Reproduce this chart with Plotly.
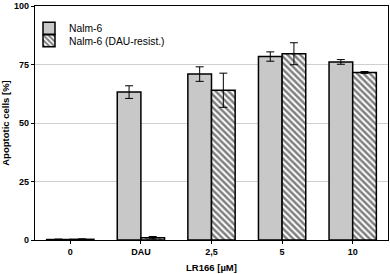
import plotly.graph_objects as go

categories = ["0", "DAU", "2,5", "5", "10"]
nalm6 = [0.2, 63.2, 70.9, 78.4, 76.1]
nalm6_err = [0.2, 2.7, 3.1, 2.0, 1.0]
resist = [0.3, 1.0, 64.0, 79.6, 71.6]
resist_err = [0.2, 0.5, 7.3, 4.7, 0.4]
y_ticks = [0, 25, 50, 75, 100]

fig = go.Figure()
fig.add_trace(go.Bar(
    x=categories, y=nalm6, name="Nalm-6", legend="legend",
    marker=dict(color="#c8c8c8", line=dict(color="black", width=1.5)),
    error_y=dict(type="data", array=nalm6_err, color="black", thickness=1, width=4),
))
fig.add_trace(go.Bar(
    x=categories, y=resist, name="Nalm-6 (DAU-resist.)", legend="legend2",
    marker=dict(color="white", line=dict(color="black", width=1.5),
                pattern=dict(shape="\\", fgcolor="black", bgcolor="white", size=4.5, solidity=0.55)),
    error_y=dict(type="data", array=resist_err, color="black", thickness=1, width=4),
))

leg_common = dict(x=-0.017, xanchor="left", yanchor="middle",
                  font=dict(size=10.3), bgcolor="rgba(0,0,0,0)")
fig.update_layout(
    width=390, height=274,
    margin=dict(l=33, r=1, t=5, b=34),
    paper_bgcolor="white", plot_bgcolor="white",
    barmode="group", bargap=0.33, bargroupgap=0,
    font=dict(family="Liberation Sans, Arial, sans-serif", color="black", size=9),
    showlegend=True,
    legend=dict(y=0.905, **leg_common),
    legend2=dict(y=0.851, **leg_common),
)
fig.update_xaxes(
    showline=True, linecolor="black", linewidth=1.2, mirror=True,
    ticks="outside", ticklen=3, tickcolor="black",
    tickfont=dict(size=9, family="Liberation Sans, Arial, sans-serif", weight="bold"),
    title=dict(text="<b>LR166 [µM]</b>", font=dict(size=9.5), standoff=8),
    range=[-0.5, 4.5],
)
fig.update_yaxes(
    range=[0, 100], tickvals=y_ticks,
    showline=True, linecolor="black", linewidth=1.2, mirror=True,
    ticks="outside", ticklen=3, tickcolor="black",
    tickfont=dict(size=9, family="Liberation Sans, Arial, sans-serif", weight="bold"),
    showgrid=True, gridcolor="#cfcfcf", gridwidth=1,
    zeroline=False,
    title=dict(text="<b>Apoptotic cells [%]</b>", font=dict(size=9.5), standoff=6),
)

fig.write_html("out.html", config={"displayModeBar": False},
               post_script="document.body.style.margin='0';document.body.style.overflow='hidden';")
